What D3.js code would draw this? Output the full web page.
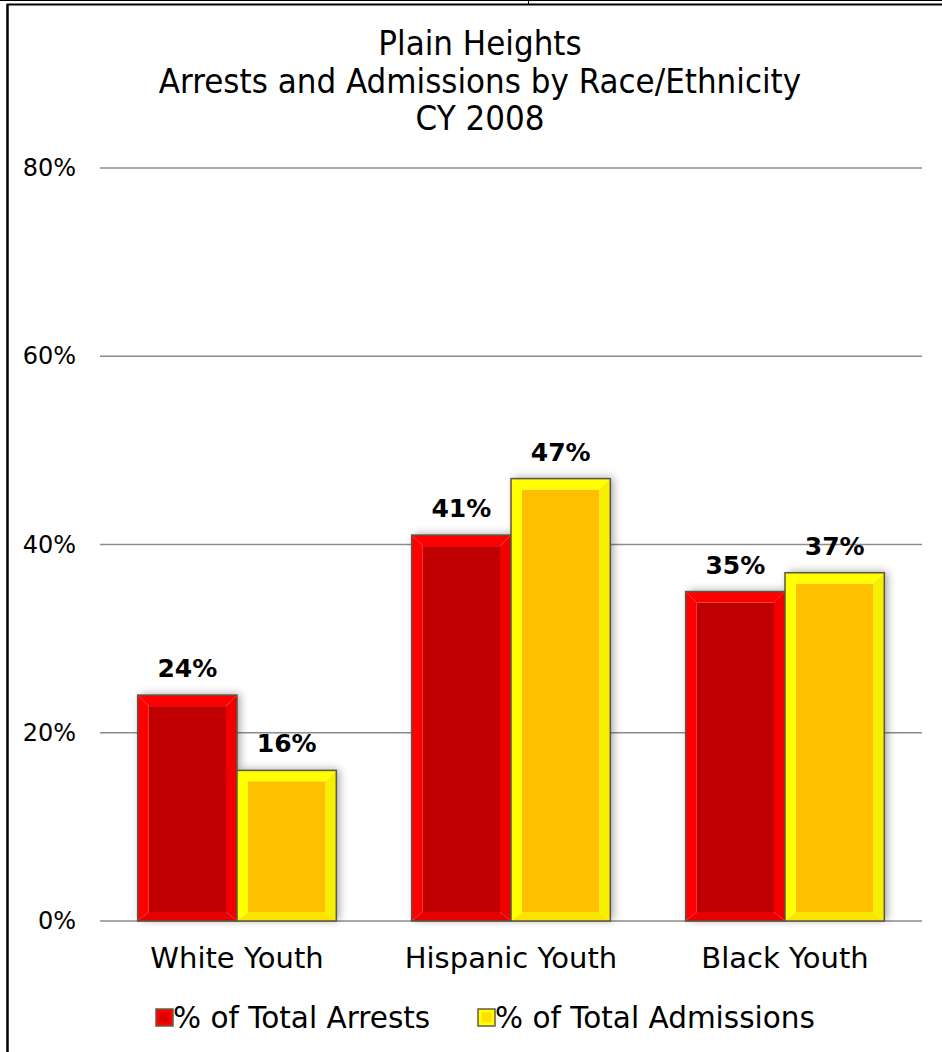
<!DOCTYPE html>
<html>
<head>
<meta charset="utf-8">
<script src="https://cdn.jsdelivr.net/npm/d3@7"></script>
<style>
  html, body { margin: 0; padding: 0; background: #fff; }
  svg { display: block; }
</style>
</head>
<body>
<svg id="chart" width="942" height="1052"></svg>
<script>
// Chart data
const titleLines = ["Plain Heights", "Arrests and Admissions by Race/Ethnicity", "CY 2008"];
const categories = ["White Youth", "Hispanic Youth", "Black Youth"];
const seriesNames = ["% of Total Arrests", "% of Total Admissions"];
const arrests = [24, 41, 35];
const admissions = [16, 47, 37];
const yTicks = [0, 20, 40, 60, 80];

const W = 942, H = 1052;
const svg = d3.select("#chart");
const font = "'DejaVu Sans', Verdana, sans-serif";

// Bevel palettes: face plus the edge shades
const palettes = [
  { face: "#c00000", light: "#ff0000", right: "#f20000", bottom: "#e60000", chip: "#dd0000" },
  { face: "#ffc000", light: "#ffff00", right: "#f5f000", bottom: "#f8e600", chip: "#ffe000" }
];

// Frame
svg.append("rect").attr("x", 0).attr("y", 0).attr("width", W).attr("height", H).attr("fill", "#fff");
svg.append("line").attr("x1", 0).attr("x2", W).attr("y1", 0.5).attr("y2", 0.5).attr("stroke", "#000").attr("stroke-width", 1);
svg.append("line").attr("x1", 7).attr("x2", W).attr("y1", 4.5).attr("y2", 4.5).attr("stroke", "#000").attr("stroke-width", 2);
svg.append("line").attr("x1", 7.5).attr("x2", 7.5).attr("y1", 4).attr("y2", H).attr("stroke", "#000").attr("stroke-width", 2.5);
svg.append("line").attr("x1", 528.5).attr("x2", 528.5).attr("y1", 0).attr("y2", 5).attr("stroke", "#000").attr("stroke-width", 1);

// Title
const title = svg.append("text")
  .attr("x", 480).attr("y", 55)
  .attr("text-anchor", "middle")
  .style("font-family", "'DejaVu Sans Condensed', 'DejaVu Sans', sans-serif")
  .style("font-size", "34.5px")
  .attr("fill", "#000");
titleLines.forEach((t, i) => {
  title.append("tspan").attr("x", 480).attr("dy", i === 0 ? 0 : 37.5).text(t);
});

// Scales
const plotLeft = 100, plotRight = 922, plotTop = 168, plotBottom = 921;
const y = d3.scaleLinear().domain([0, 80]).range([plotBottom, plotTop]);
const x0 = d3.scaleBand().domain(categories).range([plotLeft, plotRight]).paddingInner(0.275).paddingOuter(0.1375);
const x1 = d3.scaleBand().domain(seriesNames).range([0, x0.bandwidth()]);

// Gridlines
const grid = svg.append("g").attr("class", "grid");
grid.selectAll("line").data(yTicks).join("line")
  .attr("x1", plotLeft).attr("x2", plotRight)
  .attr("y1", d => y(d)).attr("y2", d => y(d))
  .attr("stroke", "#8c8c8c").attr("stroke-width", 1.5);

// Y axis labels
const yAxis = svg.append("g")
  .attr("transform", `translate(${plotLeft - 24},0)`)
  .call(d3.axisLeft(y).tickValues(yTicks).tickFormat(d => d + "%").tickSize(0).tickPadding(0));
yAxis.select(".domain").remove();
yAxis.selectAll("text")
  .style("font-family", font).style("font-size", "24px").attr("fill", "#000");

// Shadow filter
const defs = svg.append("defs");
const f = defs.append("filter").attr("id", "shadow").attr("x", "-20%").attr("y", "-20%").attr("width", "140%").attr("height", "140%");
f.append("feDropShadow").attr("dx", 3).attr("dy", -1).attr("stdDeviation", 4)
  .attr("flood-color", "#000").attr("flood-opacity", 0.35);

// Bars
const rows = categories.map((c, i) => ({ cat: c, vals: [arrests[i], admissions[i]] }));
const bevel = 11, bevelBottom = 9;

const groups = svg.append("g").selectAll("g").data(rows).join("g")
  .attr("transform", d => `translate(${x0(d.cat)},0)`);

// shadows first so neighbouring bars sit above them
groups.selectAll("rect.sh").data(d => d.vals.map((v, k) => ({ v, k }))).join("rect")
  .attr("class", "sh")
  .attr("x", d => x1(seriesNames[d.k]))
  .attr("y", d => y(d.v))
  .attr("width", x1.bandwidth())
  .attr("height", d => y(0) - y(d.v))
  .attr("fill", "#fff")
  .attr("filter", "url(#shadow)");

const bars = groups.selectAll("g.bar").data(d => d.vals.map((v, k) => ({ v, k }))).join("g").attr("class", "bar");
bars.each(function(d) {
  const g = d3.select(this);
  const p = palettes[d.k];
  const l = x1(seriesNames[d.k]), r = l + x1.bandwidth();
  const t = y(d.v), b = y(0);
  const il = l + bevel, ir = r - bevel, it = t + bevel, ib = b - bevelBottom;
  const poly = pts => pts.map(q => q.join(",")).join(" ");
  g.append("polygon").attr("points", poly([[l, t], [r, t], [ir, it], [il, it]])).attr("fill", p.light);
  g.append("polygon").attr("points", poly([[l, t], [il, it], [il, ib], [l, b]])).attr("fill", p.light);
  g.append("polygon").attr("points", poly([[r, t], [r, b], [ir, ib], [ir, it]])).attr("fill", p.right);
  g.append("polygon").attr("points", poly([[l, b], [il, ib], [ir, ib], [r, b]])).attr("fill", p.bottom);
  g.append("rect").attr("x", il).attr("y", it).attr("width", ir - il).attr("height", ib - it).attr("fill", p.face);
  g.append("rect").attr("x", l).attr("y", t).attr("width", r - l).attr("height", b - t)
    .attr("fill", "none").attr("stroke", "#5e5446").attr("stroke-width", 1.5);
});

// Value labels
groups.selectAll("text.val").data(d => d.vals.map((v, k) => ({ v, k }))).join("text")
  .attr("class", "val")
  .attr("x", d => x1(seriesNames[d.k]) + x1.bandwidth() / 2)
  .attr("y", d => y(d.v) - 18)
  .attr("text-anchor", "middle")
  .style("font-family", font).style("font-size", "25px").style("font-weight", "bold")
  .attr("fill", "#000")
  .text(d => d.v + "%");

// X axis labels
const xAxis = svg.append("g")
  .attr("transform", `translate(0,${plotBottom + 47})`)
  .call(d3.axisBottom(x0).tickSize(0).tickPadding(0));
xAxis.select(".domain").remove();
xAxis.selectAll("text")
  .attr("dy", 0)
  .style("font-family", font).style("font-size", "29px").attr("fill", "#000");

// Legend
const legendItems = [
  { name: seriesNames[0], x: 156, p: palettes[0] },
  { name: seriesNames[1], x: 478, p: palettes[1] }
];
const lg = svg.append("g").selectAll("g").data(legendItems).join("g")
  .attr("transform", d => `translate(${d.x},1009)`);
lg.append("rect").attr("x", 0).attr("y", 0).attr("width", 17).attr("height", 17)
  .attr("fill", d => d.p.light).attr("stroke", "#6a5a4a").attr("stroke-width", 1.5);
lg.append("rect").attr("x", 3.5).attr("y", 3.5).attr("width", 10).attr("height", 10)
  .attr("fill", d => d.p.chip);
lg.append("text").attr("x", 17).attr("y", 19)
  .style("font-family", font).style("font-size", "29.5px").attr("fill", "#000")
  .text(d => d.name);
</script>
</body>
</html>
